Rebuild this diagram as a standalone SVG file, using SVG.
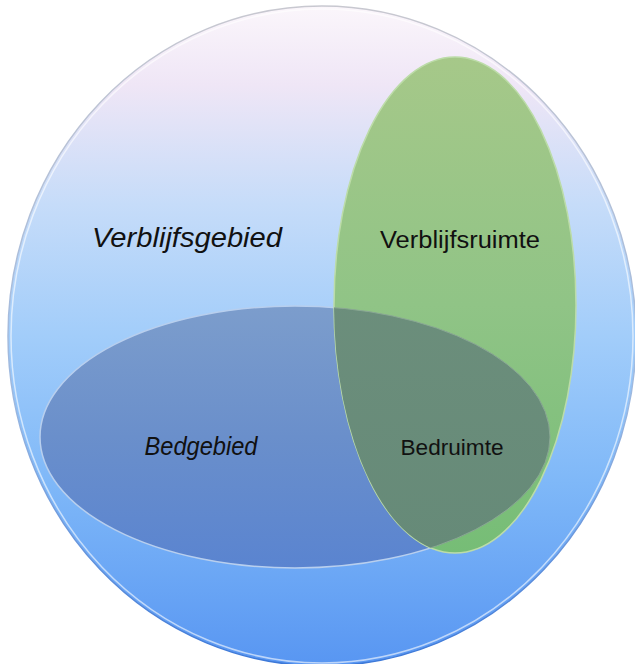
<svg xmlns="http://www.w3.org/2000/svg" width="635" height="664" viewBox="0 0 635 664">
<defs>
<linearGradient id="gCircle" x1="0" y1="0" x2="0" y2="1">
<stop offset="0" stop-color="#fbf6fb"/>
<stop offset="0.12" stop-color="#efe6f6"/>
<stop offset="0.3" stop-color="#c6dcf9"/>
<stop offset="0.5" stop-color="#a2cdfa"/>
<stop offset="0.72" stop-color="#7fb8f8"/>
<stop offset="1" stop-color="#5896f2"/>
</linearGradient>
<linearGradient id="gRim" x1="0" y1="0" x2="0" y2="1">
<stop offset="0" stop-color="#c8c8d0"/>
<stop offset="0.6" stop-color="#9cb8e0"/>
<stop offset="1" stop-color="#3c78d8"/>
</linearGradient>
<linearGradient id="gBlue" x1="0" y1="0" x2="0" y2="1">
<stop offset="0" stop-color="#7c9dcc"/>
<stop offset="0.5" stop-color="#6a8fcb"/>
<stop offset="1" stop-color="#5a84d0"/>
</linearGradient>
<linearGradient id="gGreen" x1="0" y1="0" x2="0" y2="1">
<stop offset="0" stop-color="#a6c889"/>
<stop offset="0.5" stop-color="#90c486"/>
<stop offset="1" stop-color="#76bd76"/>
</linearGradient>
<linearGradient id="gOver" x1="0" y1="0" x2="0" y2="1">
<stop offset="0" stop-color="#71927f"/>
<stop offset="1" stop-color="#668a78"/>
</linearGradient>
<clipPath id="clipBlue">
<ellipse cx="295" cy="437" rx="255" ry="131"/>
</clipPath>
<clipPath id="clipGreen">
<ellipse cx="455" cy="305" rx="121" ry="248"/>
</clipPath>
<style>
.lbl{font-family:"Liberation Sans",Arial,sans-serif;fill:#111111;text-anchor:middle}
.it{font-style:italic}
</style>
</defs>
<rect width="635" height="664" fill="#ffffff"/>
<g id="verblijfsgebied">
<ellipse cx="322" cy="336" rx="314" ry="330" fill="url(#gCircle)" stroke="url(#gRim)" stroke-width="1.5"/>
<ellipse cx="322" cy="336" rx="311" ry="327" fill="none" stroke="#ffffff" stroke-opacity="0.6" stroke-width="1.5"/>
<text class="lbl it" x="187" y="247" font-size="27" textLength="190" lengthAdjust="spacingAndGlyphs">Verblijfsgebied</text>
</g>
<g id="bedgebied">
<ellipse cx="295" cy="437" rx="255" ry="131" fill="url(#gBlue)" stroke="#b8cfee" stroke-width="1.5"/>
<text class="lbl it" x="201" y="455" font-size="25" textLength="113" lengthAdjust="spacingAndGlyphs">Bedgebied</text>
</g>
<g id="verblijfsruimte">
<ellipse cx="455" cy="305" rx="121" ry="248" fill="url(#gGreen)" stroke="#bcdca8" stroke-width="1.5"/>
<text class="lbl" x="460" y="248" font-size="23" textLength="160" lengthAdjust="spacingAndGlyphs">Verblijfsruimte</text>
</g>
<g id="bedruimte">
<ellipse cx="455" cy="305" rx="121" ry="248" fill="url(#gOver)" clip-path="url(#clipBlue)"/>
<ellipse cx="295" cy="437" rx="255" ry="131" fill="none" stroke="#8aa894" stroke-width="1" clip-path="url(#clipGreen)"/>
<text class="lbl" x="452" y="455" font-size="22" textLength="103" lengthAdjust="spacingAndGlyphs">Bedruimte</text>
</g>
<g id="connectors"/>
</svg>
